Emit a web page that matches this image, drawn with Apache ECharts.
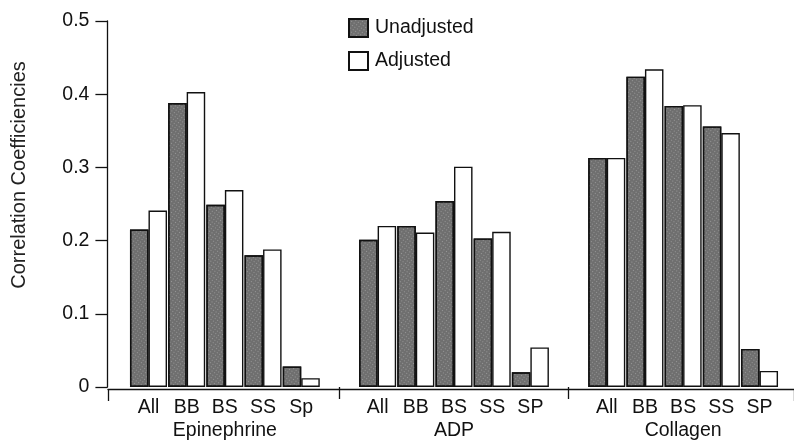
<!DOCTYPE html>
<html>
<head>
<meta charset="utf-8">
<script src="https://cdn.jsdelivr.net/npm/echarts@6/dist/echarts.min.js"></script>
<style>
  html, body { margin: 0; padding: 0; background: #fff; }
  #main { width: 794px; height: 441px; }
</style>
</head>
<body>
<div id="main"></div>
<script>
// groups and sub-categories
var groups = ['Epinephrine', 'ADP', 'Collagen'];
var subLabels = [
  ['All', 'BB', 'BS', 'SS', 'Sp'],
  ['All', 'BB', 'BS', 'SS', 'SP'],
  ['All', 'BB', 'BS', 'SS', 'SP']
];
// correlation coefficients
var unadjusted = [
  [0.215, 0.388, 0.249, 0.180, 0.028],
  [0.201, 0.220, 0.254, 0.203, 0.020],
  [0.313, 0.424, 0.384, 0.356, 0.052]
];
var adjusted = [
  [0.241, 0.403, 0.269, 0.188, 0.012],
  [0.220, 0.211, 0.301, 0.212, 0.054],
  [0.313, 0.434, 0.385, 0.347, 0.022]
];
var yTicks = [0, 0.1, 0.2, 0.3, 0.4, 0.5];

// flatten with an empty spacer slot between groups
var cats = [], groupCats = [], unadjData = [], adjData = [], spacerIdx = [];
for (var g = 0; g < groups.length; g++) {
  if (g > 0) {
    spacerIdx.push(cats.length);
    cats.push(''); groupCats.push(''); unadjData.push('-'); adjData.push('-');
  }
  for (var i = 0; i < subLabels[g].length; i++) {
    cats.push(subLabels[g][i]);
    groupCats.push(i === 2 ? groups[g] : '');
    unadjData.push(unadjusted[g][i]);
    adjData.push(adjusted[g][i]);
  }
}

var font = 'Liberation Sans, Arial, sans-serif';
var fs = 19.5;
var myChart = echarts.init(document.getElementById('main'));

var option = {
  backgroundColor: '#fff',
  animation: false,
  textStyle: { fontFamily: font, color: '#000' },
  legend: {
    orient: 'vertical',
    left: 343,
    top: 13,
    itemWidth: 19,
    itemHeight: 18,
    itemGap: 13,
    icon: 'rect',
    textStyle: { fontSize: fs, color: '#111', fontFamily: font, padding: [0, 0, 0, 2] },
    data: ['Unadjusted', 'Adjusted']
  },
  grid: [
    // full-width grid only for the long x axis line
    { left: 108, right: -2, top: 21, bottom: 52 },
    // grid holding the bars
    { left: 129.4, right: 15.4, top: 21, bottom: 52 }
  ],
  xAxis: [
    {
      gridIndex: 0, type: 'value', min: 0, max: 1, interval: 1,
      axisLine: { show: true, lineStyle: { color: '#111', width: 1.3 } },
      axisTick: { show: true, length: 12, lineStyle: { color: '#111', width: 1.3 } },
      axisLabel: { show: false },
      splitLine: { show: false }
    },
    {
      gridIndex: 1, type: 'category', data: cats,
      axisLine: { show: false },
      axisTick: {
        show: true, alignWithLabel: true, length: 12,
        interval: function (idx) { return spacerIdx.indexOf(idx) >= 0; },
        lineStyle: { color: '#111', width: 1.3 }
      },
      axisLabel: { interval: 0, fontSize: fs, color: '#111', margin: 11, fontFamily: font }
    },
    {
      gridIndex: 1, type: 'category', data: groupCats, position: 'bottom', offset: 23,
      axisLine: { show: false }, axisTick: { show: false },
      axisLabel: { interval: 0, fontSize: fs, color: '#111', margin: 11, fontFamily: font }
    }
  ],
  yAxis: [
    { gridIndex: 0, type: 'value', min: 0, max: 1, show: false },
    {
      gridIndex: 1, type: 'value', min: 0, max: 0.5, interval: 0.1, offset: 22,
      name: 'Correlation Coefficiencies',
      nameLocation: 'middle',
      nameRotate: 90,
      nameGap: 78,
      nameTextStyle: { fontSize: 20, color: '#222', fontFamily: font, padding: [0, 0, 0, 58] },
      axisLine: { show: true, lineStyle: { color: '#111', width: 1.3 } },
      axisTick: { show: true, length: 12, lineStyle: { color: '#111', width: 1.3 } },
      axisLabel: {
        fontSize: fs, color: '#111', margin: 18, fontFamily: font,
        formatter: function (v) { return v === 0 ? '0' : v.toFixed(1); }
      },
      splitLine: { show: false }
    }
  ],
  series: [
    {
      name: 'Unadjusted', type: 'bar', xAxisIndex: 1, yAxisIndex: 1,
      data: unadjData, barGap: '0%', barCategoryGap: '3%',
      itemStyle: {
        color: '#6f6f6f', borderColor: '#111', borderWidth: 1.4,
        decal: {
          symbol: 'rect', symbolSize: 1, color: 'rgba(255,255,255,0.28)',
          dashArrayX: [1, 2], dashArrayY: [1, 2], rotation: 0.6
        }
      }
    },
    {
      name: 'Adjusted', type: 'bar', xAxisIndex: 1, yAxisIndex: 1,
      data: adjData, barGap: '0%', barCategoryGap: '3%',
      itemStyle: { color: '#fff', borderColor: '#111', borderWidth: 1.4 }
    }
  ]
};
myChart.setOption(option);
</script>
</body>
</html>
